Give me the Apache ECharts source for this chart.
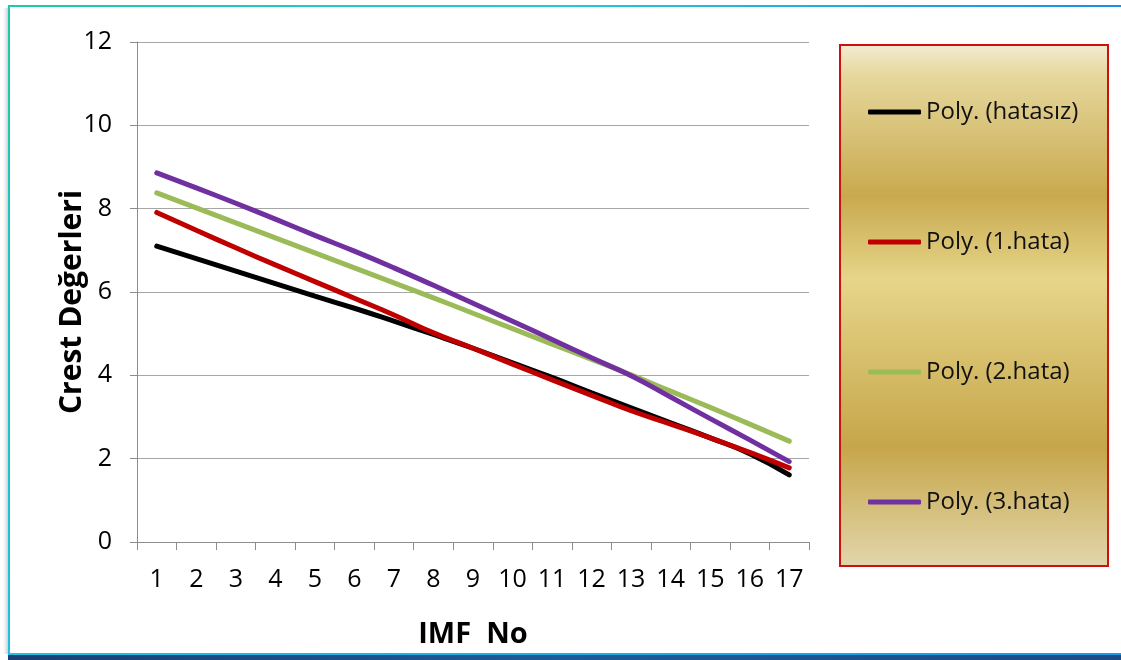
<!DOCTYPE html>
<html>
<head>
<meta charset="utf-8">
<script src="https://cdn.jsdelivr.net/npm/echarts@6/dist/echarts.min.js"></script>
<style>
  html, body { margin: 0; padding: 0; background: #ffffff; }
  #chart { width: 1121px; height: 660px; }
</style>
</head>
<body>
<div id="chart"></div>
<script>
// IMF numbers along the x axis
const imfNo = ['1','2','3','4','5','6','7','8','9','10','11','12','13','14','15','16','17'];

// Polynomial trend values of the crest factor for each case
const hatasiz = [7.10, 6.80, 6.50, 6.20, 5.90, 5.61, 5.30, 4.98, 4.65, 4.30, 3.95, 3.58, 3.22, 2.86, 2.50, 2.12, 1.61];
const hata1   = [7.91, 7.48, 7.06, 6.65, 6.25, 5.85, 5.45, 5.02, 4.65, 4.27, 3.89, 3.52, 3.15, 2.83, 2.50, 2.15, 1.78];
const hata2   = [8.38, 8.02, 7.66, 7.30, 6.94, 6.58, 6.22, 5.86, 5.49, 5.12, 4.75, 4.38, 4.01, 3.62, 3.23, 2.83, 2.42];
const hata3   = [8.86, 8.50, 8.13, 7.75, 7.36, 6.98, 6.58, 6.16, 5.73, 5.30, 4.86, 4.42, 3.99, 3.48, 2.96, 2.45, 1.93];

const seriesNames = ['Poly. (hatasız)', 'Poly. (1.hata)', 'Poly. (2.hata)', 'Poly. (3.hata)'];
const seriesColors = ['#000000', '#c00000', '#9bbb59', '#7030a0'];
const seriesData = [hatasiz, hata1, hata2, hata3];

const FONT = '"Open Sans", "Noto Sans", sans-serif';

const chart = echarts.init(document.getElementById('chart'), null, { renderer: 'canvas' });

const option = {
  backgroundColor: '#ffffff',
  animation: false,
  grid: { left: 137, right: 312, top: 42, bottom: 118 },
  xAxis: {
    type: 'category',
    data: imfNo,
    boundaryGap: true,
    name: 'IMF  No',
    nameLocation: 'middle',
    nameGap: 78,
    nameMoveOverlap: false,
    nameTextStyle: { fontFamily: FONT, fontSize: 29, fontWeight: 'bold', color: '#000' },
    axisLine: { lineStyle: { color: '#8c8c8c', width: 1 } },
    axisTick: { show: true, alignWithLabel: false, length: 8, lineStyle: { color: '#8c8c8c' } },
    axisLabel: { fontFamily: FONT, fontSize: 25, color: '#000', margin: 25, interval: 0 },
    splitLine: { show: false }
  },
  yAxis: {
    type: 'value',
    min: 0, max: 12, interval: 2,
    name: 'Crest Değerleri',
    nameLocation: 'middle',
    nameGap: 50,
    nameMoveOverlap: false,
    nameTextStyle: { fontFamily: FONT, fontSize: 30, fontWeight: 'bold', color: '#000', padding: [0, 20, 0, 0] },
    axisLine: { show: true, lineStyle: { color: '#8c8c8c', width: 1 } },
    axisTick: { show: true, length: 7, lineStyle: { color: '#8c8c8c' } },
    axisLabel: { fontFamily: FONT, fontSize: 25, color: '#000', margin: 25 },
    splitLine: { show: true, lineStyle: { color: '#a6a6a6', width: 1 } }
  },
  legend: {
    orient: 'vertical',
    left: 868,
    top: 100,
    padding: 0,
    itemGap: 106,
    itemWidth: 53,
    itemHeight: 5,
    icon: 'roundRect',
    data: seriesNames,
    textStyle: { fontFamily: FONT, fontSize: 24, color: '#111' }
  },
  graphic: [
    // gold legend panel
    {
      type: 'rect', z: -1, silent: true,
      shape: { x: 840, y: 45, width: 268, height: 521 },
      style: {
        fill: new echarts.graphic.LinearGradient(0, 0, 0, 1, [
          { offset: 0.00, color: '#f3ecd3' },
          { offset: 0.06, color: '#e6d79c' },
          { offset: 0.29, color: '#c8a94e' },
          { offset: 0.45, color: '#e6d58a' },
          { offset: 0.77, color: '#c6a64a' },
          { offset: 1.00, color: '#e2d6ab' }
        ]),
        stroke: '#cc1111',
        lineWidth: 2
      }
    },
    // outer frame: shadow, left, top and bottom edges
    {
      type: 'rect', silent: true, z: 10,
      shape: { x: 3, y: 8, width: 5, height: 646 },
      style: { fill: new echarts.graphic.LinearGradient(0, 0, 1, 0, [
        { offset: 0, color: 'rgba(200,200,210,0)' },
        { offset: 1, color: 'rgba(170,175,190,0.6)' }
      ]) }
    },
    {
      type: 'rect', silent: true, z: 10,
      shape: { x: 8, y: 5, width: 2, height: 650 },
      style: { fill: new echarts.graphic.LinearGradient(0, 0, 0, 1, [
        { offset: 0, color: '#20c8a4' },
        { offset: 1, color: '#22bfe2' }
      ]) }
    },
    {
      type: 'rect', silent: true, z: 10,
      shape: { x: 8, y: 5, width: 1113, height: 2 },
      style: { fill: new echarts.graphic.LinearGradient(0, 0, 1, 0, [
        { offset: 0, color: '#20c8a4' },
        { offset: 0.5, color: '#25c6de' },
        { offset: 1, color: '#1a8ee6' }
      ]) }
    },
    {
      type: 'rect', silent: true, z: 10,
      shape: { x: 8, y: 653, width: 1113, height: 2 },
      style: { fill: new echarts.graphic.LinearGradient(0, 0, 1, 0, [
        { offset: 0, color: '#22c2e4' },
        { offset: 1, color: '#1a9ae8' }
      ]) }
    },
    {
      type: 'rect', silent: true, z: 10,
      shape: { x: 8, y: 655, width: 1113, height: 5 },
      style: { fill: new echarts.graphic.LinearGradient(0, 0, 1, 0, [
        { offset: 0, color: '#1c3f74' },
        { offset: 0.5, color: '#1e5a98' },
        { offset: 1, color: '#1c4a86' }
      ]) }
    }
  ],
  series: seriesNames.map((name, i) => ({
    name: name,
    type: 'line',
    data: seriesData[i],
    smooth: true,
    symbol: 'none',
    color: seriesColors[i],
    lineStyle: { color: seriesColors[i], width: 5, cap: 'round' },
    z: 2 + i
  }))
};

chart.setOption(option);
</script>
</body>
</html>
